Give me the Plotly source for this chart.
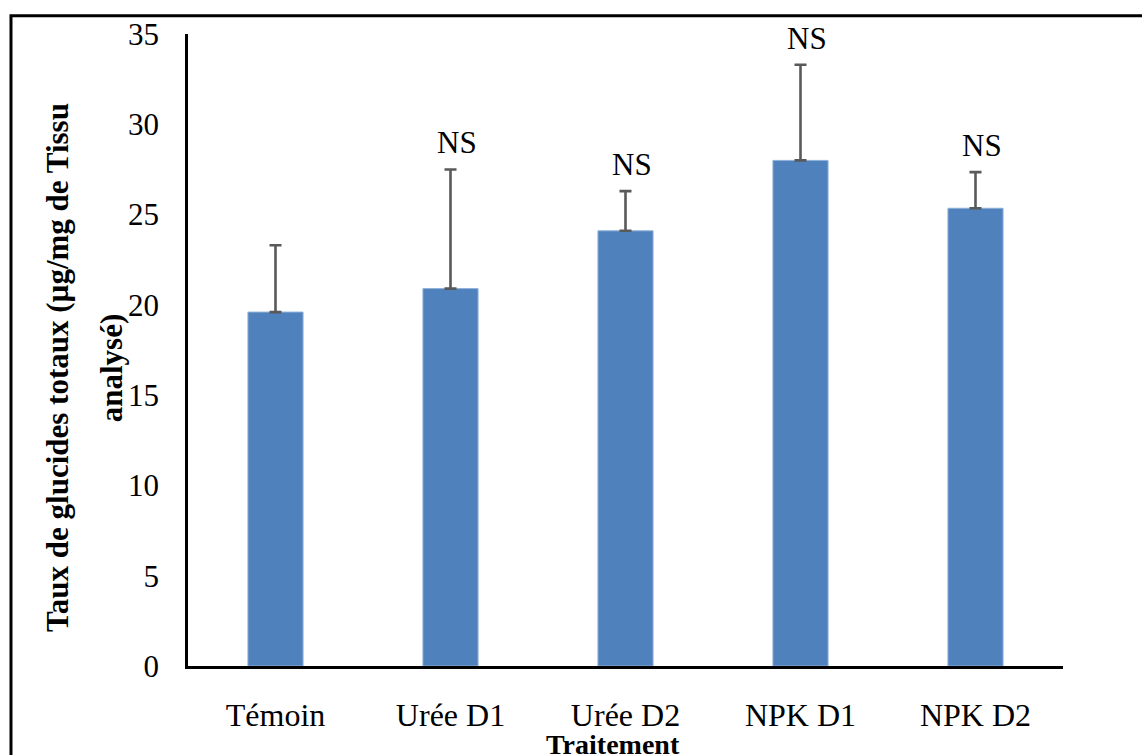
import plotly.graph_objects as go

# Mean total sugar content per treatment, with standard deviation (upper bar only)
treatments = ["Témoin", "Urée D1", "Urée D2", "NPK D1", "NPK D2"]
glucides = [19.6, 20.9, 24.1, 28.0, 25.35]
ecart_type = [3.7, 6.6, 2.2, 5.3, 2.0]
significance = ["", "NS", "NS", "NS", "NS"]
y_ticks = [0, 5, 10, 15, 20, 25, 30, 35]

FONT = "Liberation Serif"
BAR_BLUE = "#4F81BD"

fig = go.Figure()
fig.add_trace(go.Bar(
    x=treatments,
    y=glucides,
    marker=dict(color=BAR_BLUE, line=dict(color="#8EB0D9", width=1)),
    error_y=dict(type="data", symmetric=False, array=ecart_type,
                 arrayminus=[0] * len(ecart_type),
                 color="#595959", thickness=2.6, width=6),
    width=0.315,
    showlegend=False,
))

# Significance labels just above each error bar
for cat, val, err, lab in zip(treatments, glucides, ecart_type, significance):
    if lab:
        fig.add_annotation(x=cat, y=val + err, text=lab, showarrow=False,
                           xanchor="center", yanchor="bottom", xshift=6, yshift=7,
                           font=dict(family=FONT, size=31, color="black"))

# Two-line bold y-axis title
fig.add_annotation(xref="paper", yref="paper", x=-0.149, y=0.4725,
                   text="<b>Taux de glucides totaux (µg/mg de Tissu</b>",
                   textangle=-90, showarrow=False, xanchor="center", yanchor="middle",
                   font=dict(family=FONT, size=31, color="black"))
fig.add_annotation(xref="paper", yref="paper", x=-0.087, y=0.4725,
                   text="<b>analysé)</b>",
                   textangle=-90, showarrow=False, xanchor="center", yanchor="middle",
                   font=dict(family=FONT, size=31, color="black"))

# X-axis title
fig.add_annotation(xref="paper", yref="paper", x=0.486, y=-0.124,
                   text="<b>Traitement</b>", showarrow=False,
                   xanchor="center", yanchor="middle",
                   font=dict(family=FONT, size=28, color="black"))

# Outer frame around the chart area
fig.add_shape(type="rect", xref="paper", yref="paper",
              x0=-0.2023, x1=1.12, y0=-0.16, y1=1.0288,
              line=dict(color="black", width=3), fillcolor="rgba(0,0,0,0)")

fig.update_layout(
    width=1142, height=755,
    margin=dict(l=188, r=79, t=34, b=89),
    plot_bgcolor="white", paper_bgcolor="white",
    font=dict(family=FONT, size=30, color="black"),
    xaxis=dict(showline=True, linecolor="black", linewidth=2.5,
               showgrid=False, ticks="", ticklabelstandoff=19,
               tickfont=dict(family=FONT, size=32)),
    yaxis=dict(range=[0, 35], tickvals=y_ticks, showline=True, linecolor="black",
               linewidth=2.5, showgrid=False, zeroline=False, ticks="",
               ticklabelstandoff=20, tickfont=dict(family=FONT, size=31)),
)

fig.write_html("out.html")
